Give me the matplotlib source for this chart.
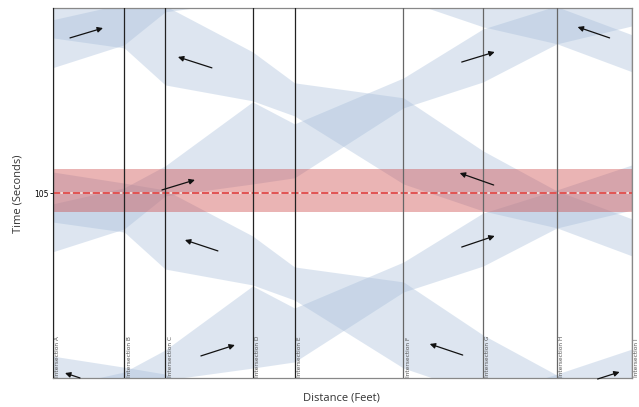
import matplotlib
matplotlib.use("Agg")
import matplotlib.pyplot as plt

# intersections along the corridor
intersections = ["A", "B", "C", "D", "E", "F", "G", "H", "I"]
distance_ft = [0, 358, 563, 1000, 1210, 1755, 2153, 2522, 2898]

cycle_s = 104.5

# green bands, one cycle, time (s) of band edges at each intersection
eb_upper = [-5.5, 3.6, 16.1, 52.4, 39.9, 66.0, 93.8, 106.9, 121.1]
eb_lower = [-32.7, -19.7, -1.0, 5.8, 9.3, 49.0, 63.7, 85.3, 95.5]
wb_upper = [117.1, 110.8, 106.9, 80.8, 63.2, 54.7, 24.6, 1.9, -14.0]
wb_lower = [88.7, 83.0, 62.0, 53.0, 44.4, 5.8, -9.5, -19.1, -35.0]

# highlighted time window
ref_time = 105
window_lo, window_hi = 94.6, 118.6

# direction arrows: (x0, t0, x1, t1)
eb_arrows = [
	(86.5, 193.2, 251.5, 198.8),
	(546.5, 106.9, 711.5, 112.6),
	(741.5, 12.7, 911.5, 18.9),
	(2046.5, 179.5, 2211.5, 185.2),
	(2046.5, 74.5, 2211.5, 80.8),
	(2726.5, -0.4, 2836.5, 3.6),
]
wb_arrows = [
	(796.5, 176.2, 626.5, 182.4),
	(826.5, 72.3, 661.5, 78.5),
	(2206.5, 109.7, 2036.5, 116.5),
	(2051.5, 13.2, 1886.5, 19.5),
	(2786.5, 193.2, 2626.5, 199.4),
	(136.5, 0.2, 61.5, 3.0),
]


def draw_bands(ax):
	for k in range(-2, 4):
		shift = k * cycle_s
		for up, lo in [(eb_upper, eb_lower), (wb_upper, wb_lower)]:
			ax.fill_between(distance_ft, [v + shift for v in lo], [v + shift for v in up],
							color="#a6bdda", alpha=0.38, lw=0, zorder=1)


def main():
	fig = plt.figure(figsize=(6.39, 4.07), dpi=100)
	ax = fig.add_axes([0.0825, 0.0705, 0.907, 0.9091])

	draw_bands(ax)

	# red window + reference line
	ax.axhspan(window_lo, window_hi, color="#cc4444", alpha=0.4, lw=0, zorder=2)
	ax.axhline(ref_time, color="#f4e4e0", lw=1.2, zorder=3)
	ax.axhline(ref_time, color="#e04848", lw=1.3, ls=(0, (4, 1.5)), zorder=4)

	# intersection lines + labels
	for i, (name, d) in enumerate(zip(intersections, distance_ft)):
		col = "#222222" if i < 5 else "#666666"
		ax.axvline(d, color=col, lw=0.9, zorder=5)
		ax.text(d + 12, 1.0, "Intersection " + name, rotation=90, fontsize=4.2,
				color="#555555", ha="left", va="bottom", clip_on=False, zorder=6)

	for x0, t0, x1, t1 in eb_arrows + wb_arrows:
		ax.annotate("", xy=(x1, t1), xytext=(x0, t0),
					arrowprops=dict(arrowstyle="-|>", lw=0.9, color="#111111",
									mutation_scale=8, shrinkA=0, shrinkB=0),
					zorder=7)

	ax.set_xlim(0, 2900)
	ax.set_ylim(0, 210)
	ax.set_xticks([])
	ax.set_yticks([ref_time])
	ax.set_yticklabels([str(ref_time)], fontsize=5.5)
	ax.tick_params(axis="y", length=2, width=0.6, pad=1)
	for s in ax.spines.values():
		s.set_color("#888888")
		s.set_linewidth(0.9)

	fig.text(0.028, 0.524, "Time (Seconds)", rotation=90, ha="center", va="center",
			 fontsize=8, family="Open Sans", color="#333333")
	fig.text(0.535, 0.022, "Distance (Feet)", ha="center", va="center",
			 fontsize=8, family="Open Sans", color="#333333")

	fig.savefig("out.png", dpi=100)


if __name__ == "__main__":
	main()
